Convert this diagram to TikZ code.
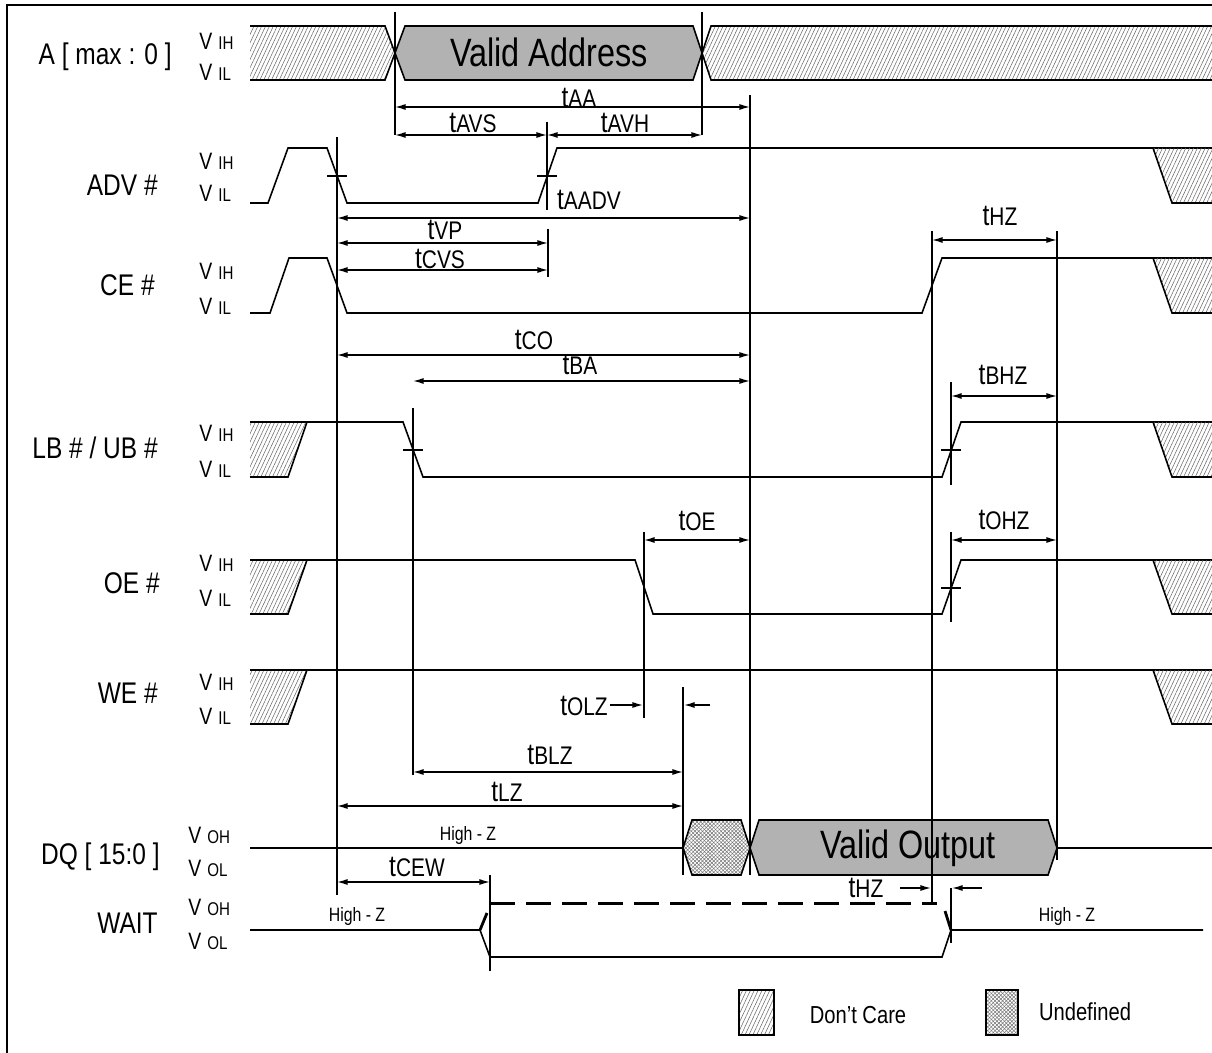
\documentclass[tikz,border=0pt]{standalone}
\usepackage{fontspec}
\setmainfont{Liberation Sans}[FakeStretch=0.82]
\usetikzlibrary{arrows.meta,patterns.meta}
\def\fsig{\fontsize{17}{17}\selectfont}
\newcommand\tlab[1]{{\fontsize{17}{17}\selectfont t}{\fontsize{14.5}{14.5}\selectfont #1}}
\newcommand\vlev[1]{{\fontsize{13.5}{13.5}\selectfont V}\hspace{3.5pt}{\fontsize{10.5}{10.5}\selectfont #1}}
\tikzset{
	sig/.style={line width=0.9pt},
	guide/.style={line width=0.6pt},
	tarrow/.style={line width=0.75pt,{Latex[length=6pt,width=3.4pt]}-{Latex[length=6pt,width=3.4pt]}},
	rarrow/.style={line width=0.75pt,-{Latex[length=6pt,width=3.4pt]}},
	dcare/.style={pattern={Lines[angle=65,distance=2pt,line width=0.3pt]},pattern color=black!60},
	undefa/.style={pattern={Lines[angle=45,distance=1.5pt,line width=0.3pt]},pattern color=black!55},
	undefb/.style={pattern={Lines[angle=-45,distance=1.5pt,line width=0.3pt]},pattern color=black!55},
	valid/.style={fill=black!30,line width=0.9pt},
	lvl/.style={anchor=west,inner sep=0pt},
	sname/.style={anchor=east,inner sep=0pt,font=\fsig},
	tname/.style={inner sep=0pt},
	hiz/.style={inner sep=0pt,font=\fontsize{11}{11}\selectfont},
}
% don't-care wedges at the left and right end of a row
\def\ldc(#1,#2){\fill[dcare] (250,#1) -- (307,#1) -- (288,#2) -- (250,#2) -- cycle;
	\draw[sig] (250,#2) -- (288,#2) -- (307,#1);}
\def\rdc(#1,#2){\fill[dcare] (1153,#1) -- (1220,#1) -- (1220,#2) -- (1172,#2) -- cycle;
	\draw[sig] (1153,#1) -- (1172,#2) -- (1220,#2);}

\begin{document}
\begin{tikzpicture}[x=0.02cm,y=-0.02cm]
			%%%%% START %%%%%
			\useasboundingbox (0,0) rectangle (1212,1053);
			\draw[line width=1.2pt] (7,1060) -- (7,5) -- (1220,5);
			
			% A [ max : 0 ]
			\node[sname] (nA) at (172,57) {A [ max : 0 ]};
			\node[lvl] (nAh) at (199,41) {\vlev{IH}};
			\node[lvl] (nAl) at (199,72) {\vlev{IL}};
			\fill[dcare] (250,26) -- (385,26) -- (395,53) -- (385,80) -- (250,80) -- cycle;
			\draw[sig] (250,26) -- (385,26) -- (395,53) -- (385,80) -- (250,80);
			\draw[valid] (395,53) -- (405,26) -- (693,26) -- (702,53) -- (693,80) -- (405,80) -- cycle;
			\node[tname,font=\fontsize{22.5}{22.5}\selectfont] (vaddr) at (549,52) {Valid Address};
			\fill[dcare] (1220,26) -- (711,26) -- (702,53) -- (711,80) -- (1220,80) -- cycle;
			\draw[sig] (1220,26) -- (711,26) -- (702,53) -- (711,80) -- (1220,80);
			
			% ADV #
			\node[sname] (nADV) at (158,185) {ADV \#};
			\node[lvl] (nADVh) at (199,161) {\vlev{IH}};
			\node[lvl] (nADVl) at (199,193) {\vlev{IL}};
			\draw[sig] (250,203) -- (268,203) -- (288,148) -- (327,148) -- (347,203) -- (538,203) -- (557,148) -- (1220,148);
			\rdc(148,203)
			
			% CE #
			\node[sname] (nCE) at (155,285) {CE \#};
			\node[lvl] (nCEh) at (199,271) {\vlev{IH}};
			\node[lvl] (nCEl) at (199,306) {\vlev{IL}};
			\draw[sig] (250,313) -- (270,313) -- (289,258) -- (327,258) -- (347,313) -- (922,313) -- (942,258) -- (1220,258);
			\rdc(258,313)
			
			% LB # / UB #
			\node[sname] (nLB) at (158,448) {LB \# / UB \#};
			\node[lvl] (nLBh) at (199,433) {\vlev{IH}};
			\node[lvl] (nLBl) at (199,469) {\vlev{IL}};
			\ldc(422,477)
			\draw[sig] (250,422) -- (403,422) -- (423,477) -- (942,477) -- (961,422) -- (1220,422);
			\rdc(422,477)
			
			% OE #
			\node[sname] (nOE) at (160,583) {OE \#};
			\node[lvl] (nOEh) at (199,563) {\vlev{IH}};
			\node[lvl] (nOEl) at (199,598) {\vlev{IL}};
			\ldc(560,614)
			\draw[sig] (250,560) -- (635,560) -- (653,614) -- (942,614) -- (961,560) -- (1220,560);
			\rdc(560,614)
			
			% WE #
			\node[sname] (nWE) at (158,693) {WE \#};
			\node[lvl] (nWEh) at (199,682) {\vlev{IH}};
			\node[lvl] (nWEl) at (199,716) {\vlev{IL}};
			\ldc(670,724)
			\draw[sig] (250,670) -- (1220,670);
			\rdc(670,724)
			
			% DQ [ 15:0 ]
			\node[sname] (nDQ) at (160,857) {DQ [ 15:0 ]};
			\node[lvl] (nDQh) at (188,835) {\vlev{OH}};
			\node[lvl] (nDQl) at (188,868) {\vlev{OL}};
			\draw[sig] (250,848) -- (683,848);
			\node[hiz] (hzDQ) at (468,835) {High - Z};
			\fill[undefa] (683,848) -- (692,820) -- (741,820) -- (750,848) -- (741,875) -- (692,875) -- cycle;
			\fill[undefb] (683,848) -- (692,820) -- (741,820) -- (750,848) -- (741,875) -- (692,875) -- cycle;
			\draw[sig] (683,848) -- (692,820) -- (741,820) -- (750,848) -- (741,875) -- (692,875) -- cycle;
			\draw[valid] (750,848) -- (759,820) -- (1048,820) -- (1057,848) -- (1048,875) -- (759,875) -- cycle;
			\node[tname,font=\fontsize{22.5}{22.5}\selectfont] (vout) at (908,848) {Valid Output};
			\draw[sig] (1057,848) -- (1220,848);
			
			% WAIT
			\node[sname] (nWAIT) at (158,923) {WAIT};
			\node[lvl] (nWh) at (188,907) {\vlev{OH}};
			\node[lvl] (nWl) at (188,941) {\vlev{OL}};
			\draw[sig] (250,930) -- (480,930) -- (490,957) -- (942,957) -- (951,930) -- (1203,930);
			\draw[line width=1.6pt] (480,930) -- (487,913);
			\draw[line width=1.6pt] (945,911) -- (951,930);
			\draw[line width=1.7pt,dash pattern=on 14pt off 6.5pt] (490,903) -- (937,903);
			\node[hiz] (hzW1) at (357,916) {High - Z};
			\node[hiz] (hzW2) at (1067,916) {High - Z};
			
			% reference lines and ticks
			\draw[guide] (395,12) -- (395,135);
			\draw[guide] (702,12) -- (702,135);
			\draw[guide] (750,95) -- (750,875);
			\draw[guide] (547,122) -- (547,210);
			\draw[guide] (548,229) -- (548,277);
			\draw[guide] (337,137) -- (337,895);
			\draw[guide] (413,408) -- (413,775);
			\draw[guide] (644,532) -- (644,718);
			\draw[guide] (683,687) -- (683,875);
			\draw[guide] (932,231) -- (932,902);
			\draw[guide] (1057,231) -- (1057,860);
			\draw[guide] (951,382) -- (951,485);
			\draw[guide] (951,532) -- (951,622);
			\draw[guide] (490,875) -- (490,971);
			\draw[guide] (951,888) -- (951,943);
			\draw[guide] (327,176) -- (347,176);
			\draw[guide] (537,176) -- (557,176);
			\draw[guide] (403,450) -- (423,450);
			\draw[guide] (941,450) -- (961,450);
			\draw[guide] (941,588) -- (961,588);
			
			% timing arrows
			\draw[tarrow] (395,107) -- (750,107);
			\node[tname] (tAA) at (579,98) {\tlab{AA}};
			\draw[tarrow] (395,135) -- (547,135);
			\node[tname] (tAVS) at (473,123) {\tlab{AVS}};
			\draw[tarrow] (547,135) -- (702,135);
			\node[tname] (tAVH) at (625,123) {\tlab{AVH}};
			\draw[tarrow] (337,218) -- (750,218);
			\node[tname] (tAADV) at (589,200) {\tlab{AADV}};
			\draw[tarrow] (337,243) -- (548,243);
			\node[tname] (tVP) at (445,230) {\tlab{VP}};
			\draw[tarrow] (337,270) -- (548,270);
			\node[tname] (tCVS) at (440,259) {\tlab{CVS}};
			\draw[tarrow] (932,240) -- (1057,240);
			\node[tname] (tHZa) at (1000,216) {\tlab{HZ}};
			\draw[tarrow] (337,355) -- (750,355);
			\node[tname] (tCO) at (534,340) {\tlab{CO}};
			\draw[tarrow] (413,381) -- (750,381);
			\node[tname] (tBA) at (580,365) {\tlab{BA}};
			\draw[tarrow] (951,396) -- (1057,396);
			\node[tname] (tBHZ) at (1003,375) {\tlab{BHZ}};
			\draw[tarrow] (644,540) -- (750,540);
			\node[tname] (tOE) at (697,521) {\tlab{OE}};
			\draw[tarrow] (951,540) -- (1057,540);
			\node[tname] (tOHZ) at (1004,520) {\tlab{OHZ}};
			\node[tname] (tOLZ) at (584,706) {\tlab{OLZ}};
			\draw[rarrow] (610,705) -- (643,705);
			\draw[rarrow] (710,705) -- (684,705);
			\draw[tarrow] (413,772) -- (683,772);
			\node[tname] (tBLZ) at (550,755) {\tlab{BLZ}};
			\draw[tarrow] (337,806) -- (683,806);
			\node[tname] (tLZ) at (507,792) {\tlab{LZ}};
			\draw[tarrow] (337,882) -- (490,882);
			\node[tname] (tCEW) at (417,867) {\tlab{CEW}};
			\node[tname] (tHZb) at (866,888) {\tlab{HZ}};
			\draw[rarrow] (900,888) -- (931,888);
			\draw[rarrow] (982,888) -- (952,888);
			
			% legend
			\fill[dcare] (739,990) rectangle (774,1035);
			\draw[guide] (739,990) rectangle (774,1035);
			\node[tname,font=\fontsize{14}{14}\selectfont] (lgDC) at (858,1015) {Don’t Care};
			\fill[undefa] (986,990) rectangle (1018,1035);
			\fill[undefb] (986,990) rectangle (1018,1035);
			\draw[guide] (986,990) rectangle (1018,1035);
			\node[tname,font=\fontsize{14}{14}\selectfont] (lgUD) at (1085,1012) {Undefined};
			%%%%% END %%%%%
\end{tikzpicture}
\end{document}
